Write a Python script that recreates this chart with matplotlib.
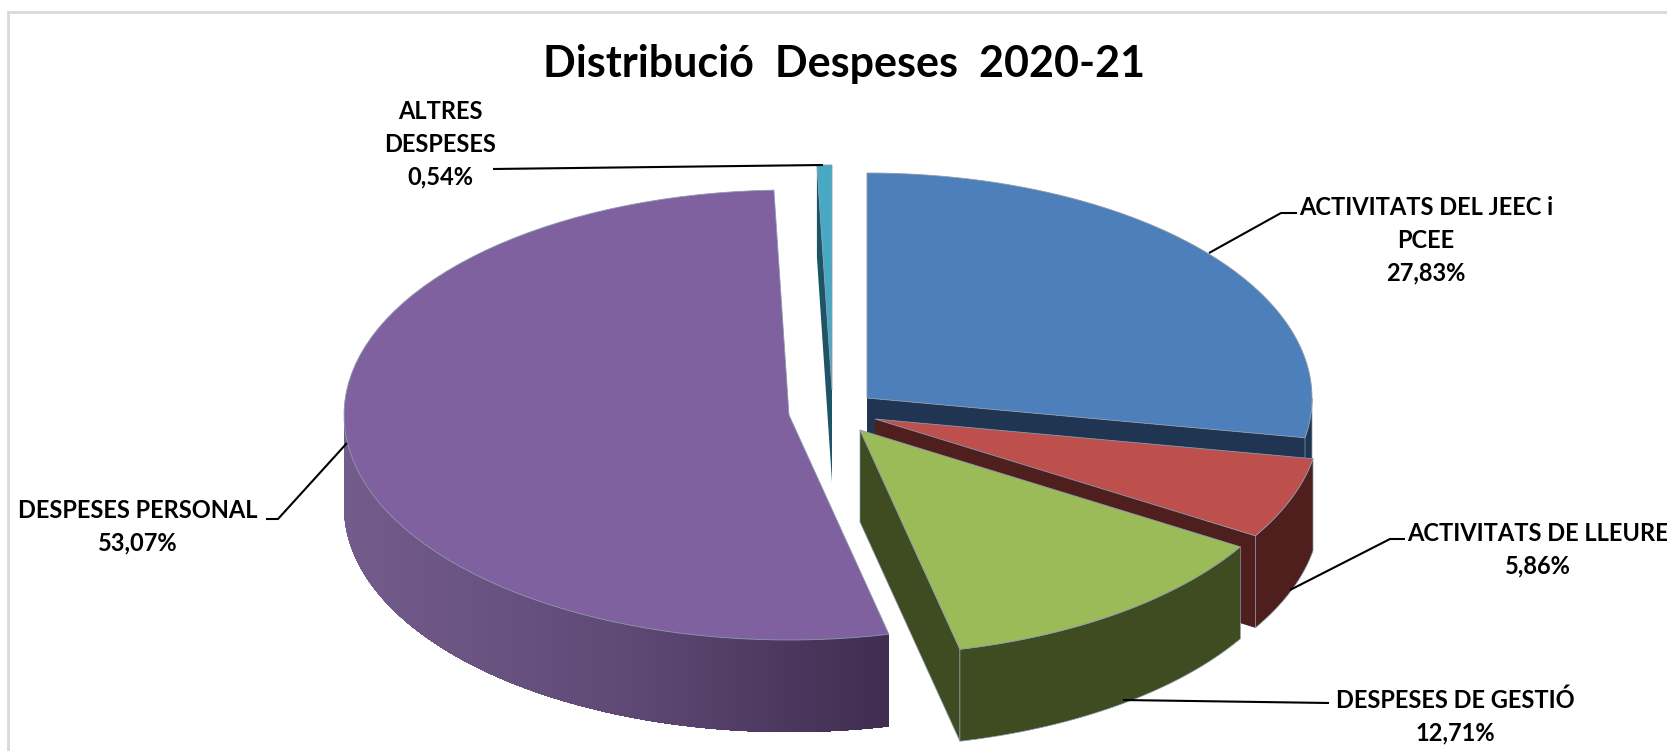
import numpy as np
import matplotlib
matplotlib.use('Agg')
import matplotlib.pyplot as plt
from matplotlib.colors import LinearSegmentedColormap
from matplotlib.patches import Polygon, Rectangle

plt.rcParams['font.family'] = ['Lato', 'DejaVu Sans']

# order: clockwise from 12 o'clock
categories = ['ACTIVITATS DEL JEEC i\nPCEE', 'ACTIVITATS DE LLEURE', 'DESPESES DE GESTIÓ',
              'DESPESES PERSONAL', 'ALTRES\nDESPESES']
values = [27.83, 5.86, 12.71, 53.07, 0.54]
value_labels = ['27,83%', '5,86%', '12,71%', '53,07%', '0,54%']
title = 'Distribució  Despeses  2020-21'

top_colors = ['#4D7FBA', '#BD4F4C', '#9BBB59', '#8061A0', '#48A9C5']
side_colors = ['#1F3552', '#4F1F1D', '#3F4C21', '#4A3560', '#1D5566']

# where each exploded slice has its point, in pixels
centers = [(867, 398), (875, 419), (860, 430), (789, 415), (832, 390)]
label_pos = [(1426, 240), (1538, 550), (1455, 716), (138, 527), (440, 144)]
leaders = [[(1209, 253), (1281, 213), (1297, 213)],
           [(1290, 590), (1390, 539), (1405, 539)],
           [(1123, 700), (1329, 703)],
           [(347, 443), (278, 519), (266, 519)],
           [(493, 169), (823, 165)]]

RX, RY, DEPTH = 445, 225, 92
EDGE = '#8c9aae'


def rim(center, a0, a1, n=80):
    # points on the top rim, angles in degrees clockwise from the top
    t = np.radians(np.linspace(a0, a1, n))
    return np.column_stack([center[0] + RX * np.sin(t), center[1] - RY * np.cos(t)])


def side(points):
    # wall under a run of top-face points
    low = points[::-1] + [0, DEPTH]
    return np.vstack([points, low])


fig = plt.figure(figsize=(16.67, 7.51), dpi=100)
ax = fig.add_axes([0, 0, 1, 1])
ax.set_xlim(0, 1667)
ax.set_ylim(751, 0)
ax.axis('off')

ax.add_patch(Rectangle((8, 12), 1700, 800, fc='white', ec='#d9d9d9', lw=2))

edges = np.cumsum([0] + values) / sum(values) * 360
purple_wall = LinearSegmentedColormap.from_list('wall', ['#735C8C', '#5F4A76', '#3F2D50'])

# back to front: ALTRES, JEEC, PERSONAL, LLEURE, GESTIO
for i in [4, 0, 3, 1, 2]:
    c, a0, a1 = centers[i], edges[i], edges[i + 1]
    outer = rim(c, a0, a1)
    apex = np.array([c], dtype=float)

    # radial cut faces that look at the viewer
    if i in (0, 1):
        cut = np.vstack([apex, rim(c, a1, a1, 1)])
        ax.add_patch(Polygon(side(cut), fc=side_colors[i], ec='none'))
    elif i == 2:
        cut = np.vstack([apex, rim(c, a1, a1, 1)])
        ax.add_patch(Polygon(side(cut), fc=side_colors[i], ec=EDGE, lw=0.5))
    elif i == 4:
        cut = np.vstack([apex, rim(c, a0, a0, 1)])
        ax.add_patch(Polygon(side(cut), fc=side_colors[i], ec='none'))

    # outer wall, only the front half of the ellipse shows
    lo, hi = max(a0, 90), min(a1, 270)
    if lo < hi:
        if i == 3:
            # drawn from the left end, each strip overlaps the next so no seams show
            steps = np.linspace(hi, lo, 241)
            xs = rim(c, hi, lo, 241)[:, 0]
            for j in range(239):
                col = purple_wall((xs[j] - xs.min()) / (xs.max() - xs.min()))
                ax.add_patch(Polygon(side(rim(c, steps[j], steps[-1], 40)), fc=col, ec='none'))
        else:
            ax.add_patch(Polygon(side(rim(c, lo, hi)), fc=side_colors[i], ec=EDGE, lw=0.5))

    ax.add_patch(Polygon(np.vstack([apex, outer]), fc=top_colors[i], ec=EDGE, lw=0.6))

for pts in leaders:
    xy = np.array(pts)
    ax.plot(xy[:, 0], xy[:, 1], color='black', lw=1.5, solid_capstyle='butt')

for name, val, pos in zip(categories, value_labels, label_pos):
    ax.text(pos[0], pos[1], name + '\n' + val, ha='center', va='center', fontsize=17,
            fontweight='bold', color='black', linespacing=1.5, clip_on=True)

ax.text(844, 64, title, ha='center', va='center', fontsize=31, fontweight='bold', color='black')

fig.savefig('out.png', dpi=100)
